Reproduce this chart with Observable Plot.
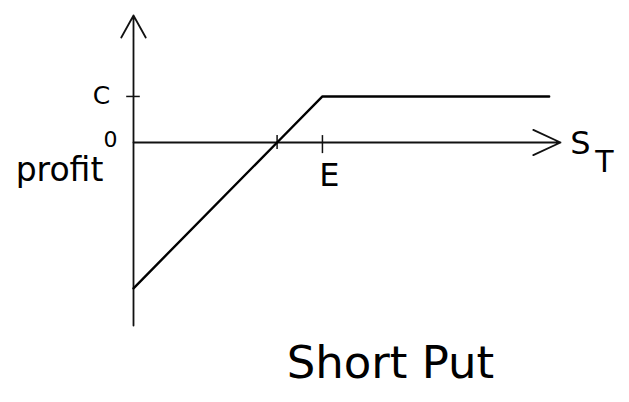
<!DOCTYPE html>
<html>
<head>
<meta charset="utf-8">
<script src="https://cdn.jsdelivr.net/npm/d3@7"></script>
<script src="https://cdn.jsdelivr.net/npm/@observablehq/plot@0.6"></script>
<style>
  html, body { margin: 0; padding: 0; background: #fff; }
  svg { display: block; }
</style>
</head>
<body>
<div id="chart"></div>
<script>
// Payoff of a short put (stock price at expiry S_T vs profit)
const strikeE = 50;          // E
const premiumC = 12;         // C
const stockPrices = [0, 38, 50, 110];     // S_T
const profits     = [-38, 0, 12, 12];     // profit
const xAxisExtent = [0, 113];
const yAxisExtent = [-47.7, 33.1];

const payoff = stockPrices.map((s, i) => ({s, p: profits[i]}));

const font = "DejaVu Sans, sans-serif";

const chart = Plot.plot({
  width: 629,
  height: 402,
  marginLeft: 133,
  marginRight: 69,
  marginTop: 15,
  marginBottom: 77,
  x: {domain: xAxisExtent, axis: null},
  y: {domain: yAxisExtent, axis: null},
  style: {background: "#fff", fontFamily: font},
  marks: [
    // axes with open arrowheads
    Plot.arrow([{}], {x1: 0, y1: yAxisExtent[0], x2: 0, y2: yAxisExtent[1], stroke: "#111", strokeWidth: 1.8, headLength: 21, headAngle: 58}),
    Plot.arrow([{}], {x1: 0, y1: 0, x2: xAxisExtent[1], y2: 0, stroke: "#111", strokeWidth: 1.8, headLength: 25, headAngle: 50}),
    // small ticks at C, E and breakeven
    Plot.ruleY([premiumC], {x1: -1.8, x2: 1.8, stroke: "#111", strokeWidth: 1.5}),
    Plot.ruleX([strikeE], {y1: -2.9, y2: 1.8, stroke: "#111", strokeWidth: 1.5}),
    Plot.ruleX([stockPrices[1]], {y1: -1.8, y2: 1.8, stroke: "#111", strokeWidth: 1.5}),
    // payoff line
    Plot.line(payoff, {x: "s", y: "p", stroke: "#000", strokeWidth: 2.4}),
    // labels
    Plot.text(["C"], {x: 0, y: premiumC, dx: -32, fontSize: 25, fill: "#000", fontFamily: font}),
    Plot.text(["0"], {x: 0, y: 0, dx: -23, dy: -3, fontSize: 22, fill: "#000", fontFamily: font}),
    Plot.text(["profit"], {x: 0, y: 0, dx: -74, dy: 28, fontSize: 33, fill: "#000", fontFamily: font}),
    Plot.text(["E"], {x: strikeE, y: 0, dx: 7, dy: 33, fontSize: 32, fill: "#000", fontFamily: font}),
    Plot.text(["S"], {x: xAxisExtent[1], y: 0, dx: 20, dy: 1, fontSize: 32, fill: "#000", fontFamily: font}),
    Plot.text(["T"], {x: xAxisExtent[1], y: 0, dx: 44, dy: 20, fontSize: 30, fill: "#000", fontFamily: font}),
    Plot.text(["Short Put"], {x: 68, y: yAxisExtent[0], dy: 38, fontSize: 45, fill: "#000", fontFamily: font})
  ]
});
document.getElementById("chart").appendChild(chart);
</script>
</body>
</html>
